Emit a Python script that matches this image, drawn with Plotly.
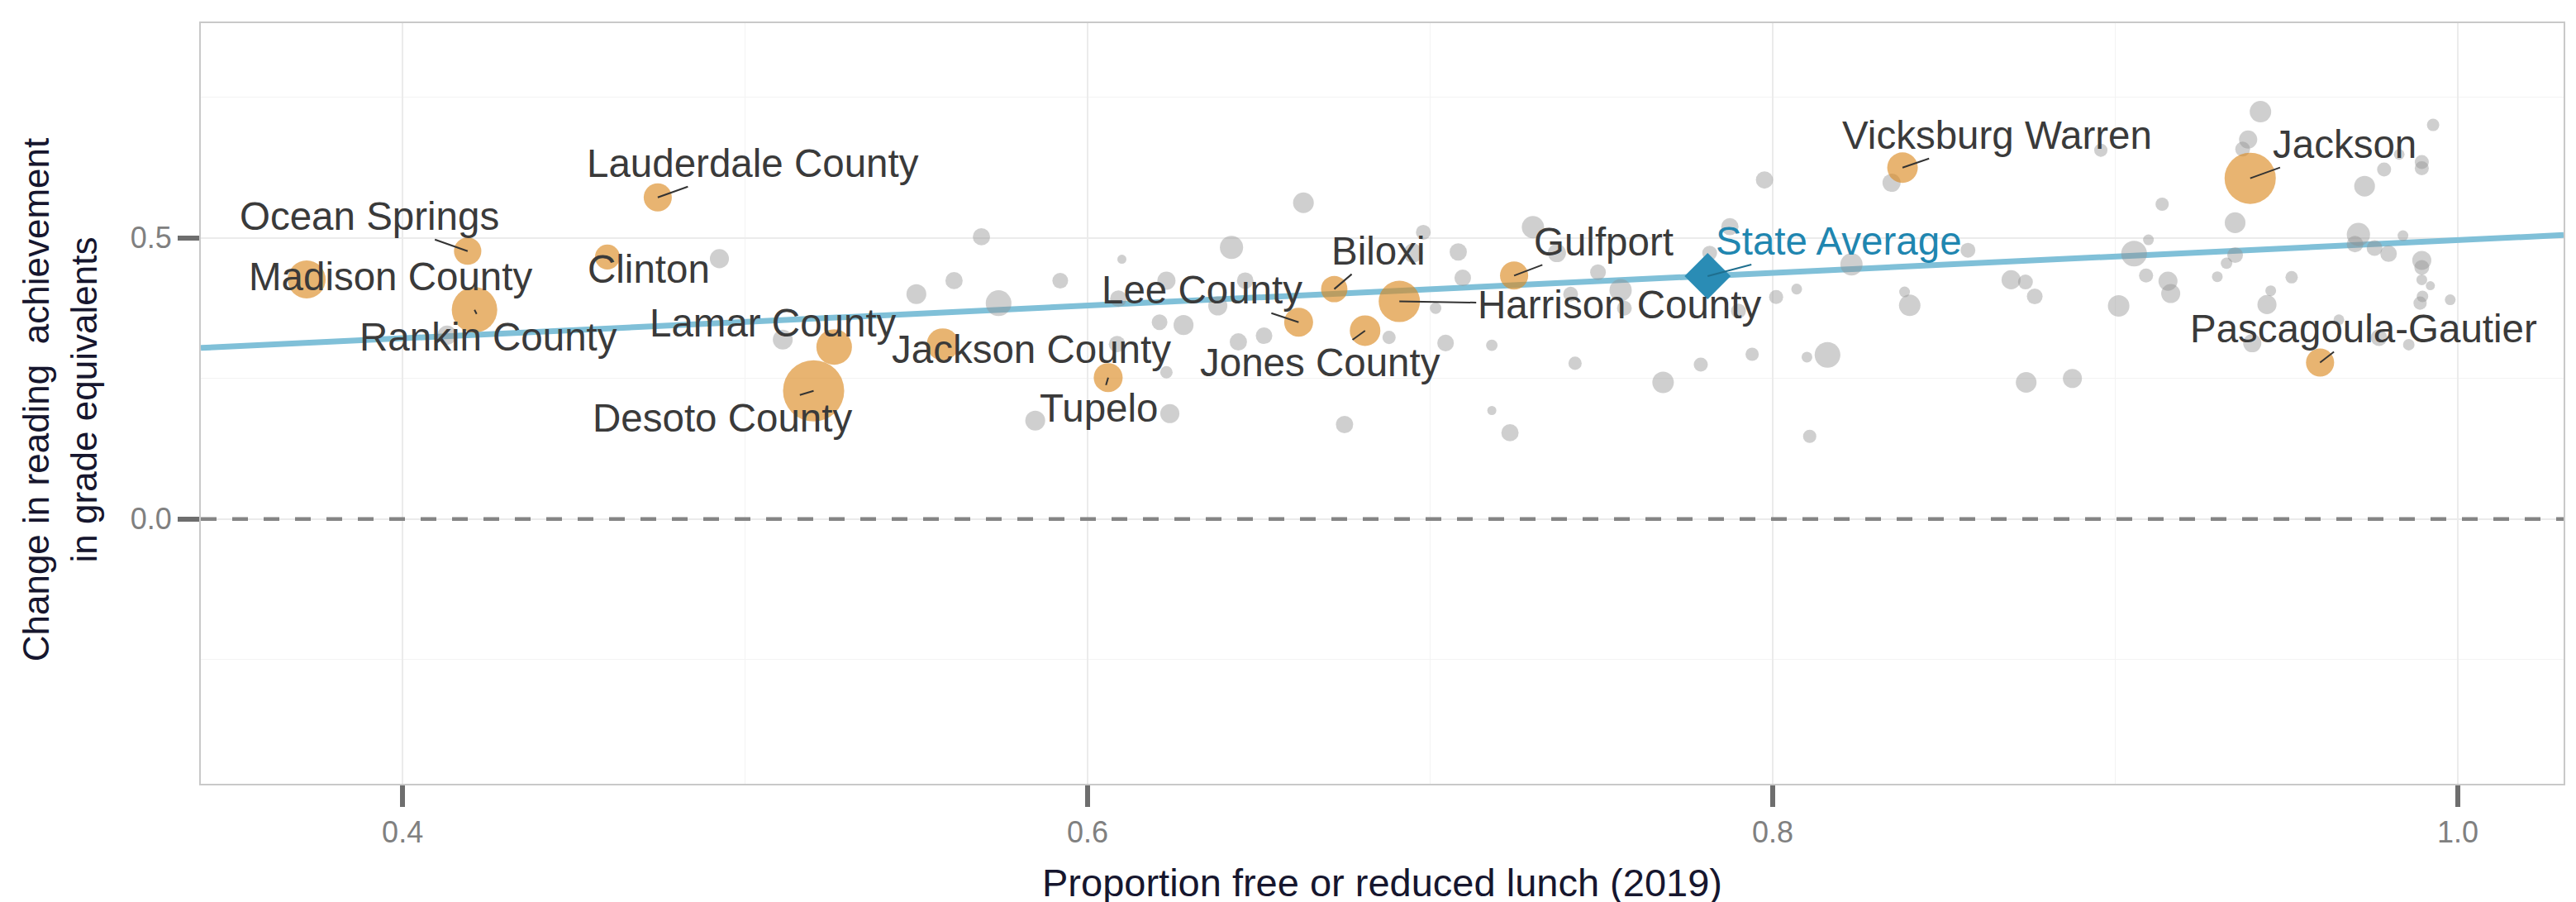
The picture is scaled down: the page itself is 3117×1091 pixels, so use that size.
import numpy as np
import plotly.graph_objects as go

# ---------------- data ----------------
# Highlighted districts
district_names = ["Ocean Springs", "Madison County", "Rankin County", "Lauderdale County", "Clinton",
                  "Lamar County", "Desoto County", "Jackson County", "Tupelo", "Lee County", "Biloxi",
                  "Harrison County", "Jones County", "Gulfport", "Vicksburg Warren", "Jackson",
                  "Pascagoula-Gautier"]
district_frl = [0.419, 0.372, 0.421, 0.4745, 0.4598, 0.526, 0.520, 0.5577, 0.606, 0.6616, 0.672,
                0.691, 0.681, 0.7245, 0.8379, 0.9394, 0.9598]
district_change = [0.4765, 0.426, 0.372, 0.572, 0.466, 0.306, 0.228, 0.3105, 0.2515, 0.350, 0.409,
                   0.387, 0.335, 0.433, 0.625, 0.606, 0.2784]
district_enroll = [6.8, 13.1, 18.8, 7.2, 5.6, 11.5, 34.0, 9.4, 7.6, 7.6, 6.3, 15.5, 8.5, 7.2, 8.5,
                   23.8, 7.2]  # thousands of students

# Other districts (grey)
other_frl = [0.413, 0.4925, 0.511, 0.569, 0.550, 0.561, 0.574, 0.592, 0.610, 0.663, 0.642, 0.623,
             0.646, 0.698, 0.695, 0.7082, 0.7095, 0.7016, 0.638, 0.609, 0.621, 0.628, 0.644, 0.6515,
             0.688, 0.7045, 0.6086, 0.623, 0.5847, 0.624, 0.675, 0.718, 0.718,
             0.8347, 0.7976, 0.730, 0.7875, 0.737, 0.749, 0.7556, 0.741, 0.7816, 0.7567, 0.790,
             0.801, 0.807, 0.823, 0.857, 0.8385, 0.840, 0.7423, 0.779, 0.794, 0.810, 0.816, 0.768,
             0.7233, 0.8108,
             0.9424, 0.9388, 0.9372, 0.9928, 0.9829, 0.9895, 0.9895, 0.9785, 0.9728, 0.8958, 0.9137,
             0.935, 0.971, 0.970, 0.9757, 0.9798, 0.984, 0.9895, 0.9895, 0.9895, 0.992, 0.9897, 0.989,
             0.9978, 0.9055, 0.9097, 0.935, 0.9325, 0.9298, 0.9515, 0.9454, 0.9443, 0.9653, 0.909,
             0.9154, 0.9162, 0.901, 0.8696, 0.8738, 0.8765, 0.940, 0.9857, 0.977, 0.874, 0.8875]
other_change = [0.327, 0.463, 0.319, 0.502, 0.400, 0.424, 0.384, 0.424, 0.462, 0.5625, 0.483, 0.424,
                0.424, 0.510, 0.473, 0.475, 0.429, 0.375, 0.379, 0.392, 0.350, 0.345, 0.315, 0.326,
                0.323, 0.313, 0.311, 0.261, 0.175, 0.1875, 0.168, 0.309, 0.193,
                0.598, 0.603, 0.519, 0.520, 0.473, 0.439, 0.407, 0.400, 0.473, 0.375, 0.370,
                0.395, 0.409, 0.453, 0.478, 0.404, 0.380, 0.277, 0.2745, 0.293, 0.288, 0.292, 0.243,
                0.1534, 0.147,
                0.7245, 0.675, 0.658, 0.701, 0.6485, 0.635, 0.624, 0.6216, 0.592, 0.656, 0.560,
                0.527, 0.506, 0.489, 0.482, 0.472, 0.504, 0.460, 0.4475, 0.4255, 0.415, 0.396, 0.384,
                0.390, 0.472, 0.4966, 0.4696, 0.455, 0.431, 0.430, 0.406, 0.3814, 0.3544, 0.433,
                0.423, 0.401, 0.379, 0.4255, 0.4216, 0.396, 0.3127, 0.310, 0.3226, 0.243, 0.250]
other_enroll = [3.3, 3.3, 3.6, 2.7, 3.6, 2.7, 6.0, 2.25, 0.75, 3.9, 4.9, 3.0,
                2.5, 2.0, 3.3, 2.7, 2.5, 1.2, 3.3, 2.5, 2.25, 3.6, 2.7, 2.5,
                1.6, 2.5, 2.5, 1.4, 3.6, 3.3, 2.7, 1.2, 0.75,
                3.0, 2.7, 4.5, 2.7, 3.0, 2.25, 4.5, 2.0, 2.0, 2.0, 2.0,
                1.8, 1.05, 4.5, 2.0, 1.05, 4.2, 1.6, 1.8, 1.6, 1.05, 6.0, 4.2,
                2.7, 1.6,
                4.2, 3.0, 2.0, 1.4, 1.05, 1.8, 1.8, 1.8, 3.9, 1.6, 1.6,
                3.9, 4.9, 2.5, 2.25, 2.5, 1.05, 3.3, 2.0, 1.05, 0.75, 1.2, 1.6,
                1.05, 6.0, 1.05, 2.25, 1.2, 1.05, 1.4, 1.05, 3.3, 1.05, 1.8,
                3.3, 3.3, 4.2, 3.3, 2.0, 2.25, 3.0, 1.2, 2.5, 3.9, 3.3]

state_avg_frl = 0.781
state_avg_change = 0.432

fit_intercept = 0.205
fit_slope = 0.291

x_ticks = [0.4, 0.6, 0.8, 1.0]
x_tick_labels = ["0.4", "0.6", "0.8", "1.0"]
y_ticks = [0.0, 0.5]
y_tick_labels = ["0.0", "0.5"]

x_title = "Proportion free or reduced lunch (2019)"
y_title = "Change in reading\u00a0 achievement<br>in grade equivalents"

# ---------------- styling ----------------
X_RANGE = [0.3411, 1.0309]
Y_RANGE = [-0.471, 0.882]
SIZE_K = 12.7          # px diameter per sqrt(thousand students)
FONT = "Liberation Sans, Arial, Helvetica, sans-serif"
LABEL_COLOR = "#3a3a3a"
LABEL_SIZE = 47.5
DY = -6  # vertical correction for text box centring

# label placement (pixel offsets from point; arrow flag -> leader segment)
label_offsets = {
    "Ocean Springs": (-119, -36, True),
    "Madison County": (101, 2, False),
    "Rankin County": (17, 39, True),
    "Lauderdale County": (115, -35, True),
    "Clinton": (50, 21, False),
    "Lamar County": (-74, -23, False),
    "Desoto County": (-110, 39, True),
    "Jackson County": (107, 12, False),
    "Tupelo": (-11, 43, True),
    "Lee County": (-117, -33, True),
    "Biloxi": (54, -40, True),
    "Harrison County": (266, 10, True),
    "Jones County": (-54, 45, True),
    "Gulfport": (108, -35, True),
    "Vicksburg Warren": (114, -33, True),
    "Jackson": (114, -35, True),
    "Pascagoula-Gautier": (53, -35, True),
}

fig = go.Figure()

# regression line
xl = np.array(X_RANGE)
fig.add_trace(go.Scatter(x=xl, y=fit_intercept + fit_slope * xl, mode="lines",
                         line=dict(color="#80c0d8", width=7), hoverinfo="skip", showlegend=False))

# grey districts
fig.add_trace(go.Scatter(x=other_frl, y=other_change, mode="markers",
                         marker=dict(size=SIZE_K * np.sqrt(np.array(other_enroll)), sizemode="diameter",
                                     color="rgba(145,145,145,0.62)", line=dict(width=0)),
                         showlegend=False))

# highlighted districts
fig.add_trace(go.Scatter(x=district_frl, y=district_change, mode="markers",
                         marker=dict(size=SIZE_K * np.sqrt(np.array(district_enroll)), sizemode="diameter",
                                     color="rgba(218,136,30,0.9)", line=dict(width=0)),
                         text=district_names, showlegend=False))

# state average
fig.add_trace(go.Scatter(x=[state_avg_frl], y=[state_avg_change], mode="markers",
                         marker=dict(symbol="diamond", size=43, color="#2a8cb5", line=dict(width=0)),
                         showlegend=False))

annotations = []
for name, fx, cy in zip(district_names, district_frl, district_change):
    ax, ay, arrow = label_offsets[name]
    if arrow:
        annotations.append(dict(x=fx, y=cy, xref="x", yref="y", text=name, showarrow=True,
                                ax=ax, ay=ay + DY, arrowhead=0, arrowwidth=2, arrowcolor="#333333",
                                standoff=0, startstandoff=0,
                                font=dict(family=FONT, size=LABEL_SIZE, color=LABEL_COLOR)))
    else:
        annotations.append(dict(x=fx, y=cy, xref="x", yref="y", text=name, showarrow=False,
                                xshift=ax, yshift=-(ay + DY),
                                font=dict(family=FONT, size=LABEL_SIZE, color=LABEL_COLOR)))

annotations.append(dict(x=state_avg_frl, y=state_avg_change, xref="x", yref="y", text="State Average",
                        showarrow=True, ax=159, ay=-36 + DY, arrowhead=0, arrowwidth=2,
                        arrowcolor="#1f6f8f", standoff=0,
                        font=dict(family=FONT, size=LABEL_SIZE, color="#1f86b0")))

# axis titles
annotations.append(dict(x=0.5, y=-0.1304, xref="paper", yref="paper", text=x_title, showarrow=False,
                        xanchor="center", yanchor="middle",
                        font=dict(family=FONT, size=47, color="#16162e")))
annotations.append(dict(x=-0.0595, y=0.505, xref="paper", yref="paper", text=y_title, showarrow=False,
                        textangle=-90, xanchor="center", yanchor="middle",
                        font=dict(family=FONT, size=44, color="#16162e")))

fig.update_layout(
    width=3117, height=1091,
    margin=dict(l=235, r=23, t=20, b=151),
    paper_bgcolor="white", plot_bgcolor="white",
    annotations=annotations,
    shapes=[dict(type="line", xref="paper", x0=0, x1=1, yref="y", y0=0, y1=0,
                 line=dict(color="#858585", width=4.5, dash="19px,19px"), layer="above")],
    showlegend=False,
)

axis_common = dict(showline=True, linecolor="#c9c9c9", linewidth=2, mirror=True,
                   ticks="outside", ticklen=26, tickwidth=6, tickcolor="#6e6e6e",
                   showgrid=True, gridcolor="#ebebeb", gridwidth=2, zeroline=False,
                   tickfont=dict(family=FONT, size=36, color="#808080"))

fig.update_xaxes(range=X_RANGE, tickvals=x_ticks, ticktext=x_tick_labels,
                 minor=dict(tickvals=[0.5, 0.7, 0.9], showgrid=True, gridcolor="#f3f3f3",
                            gridwidth=1, ticks=""),
                 **axis_common)
fig.update_yaxes(range=Y_RANGE, tickvals=y_ticks, ticktext=y_tick_labels,
                 minor=dict(tickvals=[-0.25, 0.25, 0.75], showgrid=True, gridcolor="#f3f3f3",
                            gridwidth=1, ticks=""),
                 **axis_common)

fig.write_html("out.html")
